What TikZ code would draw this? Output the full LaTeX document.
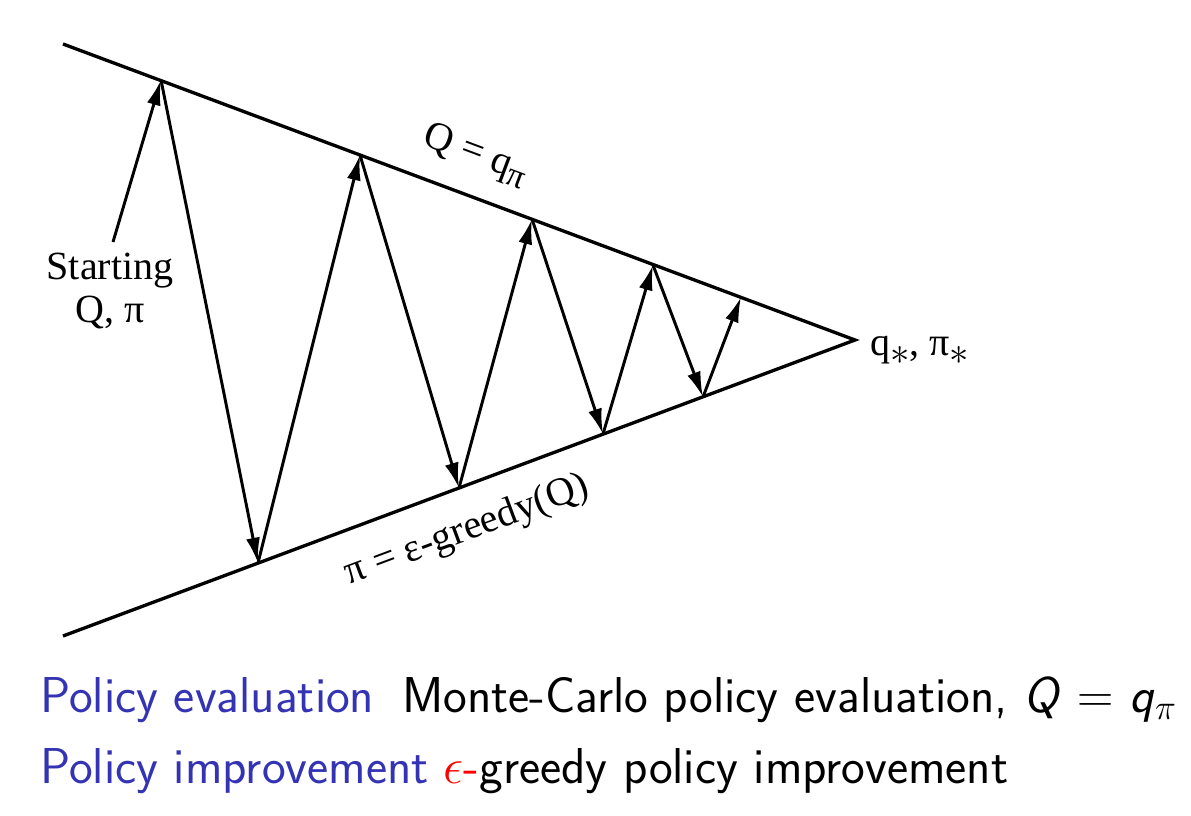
\documentclass[tikz,border=0pt]{standalone}
\usepackage{fix-cm}
\usepackage{fontspec}
\setmainfont{Liberation Serif}
\usetikzlibrary{arrows.meta}
\definecolor{struct}{RGB}{51,51,179}
\tikzset{
  edge/.style={line width=2.5pt},
  arr/.style={line width=2.2pt,-{Latex[length=19pt,width=10.5pt]}},
  lbl/.style={inner sep=0pt,font=\fontsize{30}{32}\selectfont},
  bot/.style={inner sep=0pt,anchor=base west,font=\sffamily\fontsize{37.8}{42}\selectfont}
}
\newcommand{\lowast}{\raisebox{-0.5ex}{\fontsize{29}{29}\selectfont$*$}}
\begin{document}
\begin{tikzpicture}[x=0.75pt,y=-0.75pt]
\useasboundingbox (0,0) rectangle (1191,816);
% triangle
\coordinate (A) at (855,340);
\coordinate (TL) at (63,44);
\coordinate (BL) at (63,636);
\draw[edge,line join=miter] (TL) -- (A) -- (BL);
% zigzag points
\coordinate (S) at (113,242);
\coordinate (T1) at (161,80);
\coordinate (B1) at (258,563);
\coordinate (T2) at (360,155);
\coordinate (B2) at (459,488);
\coordinate (T3) at (532,219);
\coordinate (B3) at (603,434);
\coordinate (T4) at (653,265);
\coordinate (B4) at (703,397);
\coordinate (T5) at (741,297);
\draw[arr] (S) -- (T1);
\draw[arr] (T1) -- (B1);
\draw[arr] (B1) -- (T2);
\draw[arr] (T2) -- (B2);
\draw[arr] (B2) -- (T3);
\draw[arr] (T3) -- (B3);
\draw[arr] (B3) -- (T4);
\draw[arr] (T4) -- (B4);
\draw[arr] (B4) -- (T5);
% labels
\node[lbl,anchor=base] (start) at (110,280) {Starting};
\node[lbl,anchor=base] (startq) at (110,323) {Q, π};
\node[lbl,rotate=-20.5] (qpi) at (476,155) {Q = q\raisebox{-0.4ex}{\fontsize{26}{28}\selectfont π}};
\node[lbl,rotate=20.5] (greedy) at (467,531) {π = ε-greedy(Q)};
\node[lbl,anchor=base west] (star) at (870,355) {q\lowast, π\lowast};
% bottom text
\node[bot] (l1) at (40,712) {\textcolor{struct}{Policy evaluation}\hspace{0.55em}Monte-Carlo policy evaluation, \textit{Q} $=$ \textit{q}$_\pi$};
\node[bot] (l2) at (40,783) {\textcolor{struct}{Policy improvement}\hspace{0.3em}\textcolor{red}{$\epsilon$-}greedy policy improvement};
\end{tikzpicture}
\end{document}
